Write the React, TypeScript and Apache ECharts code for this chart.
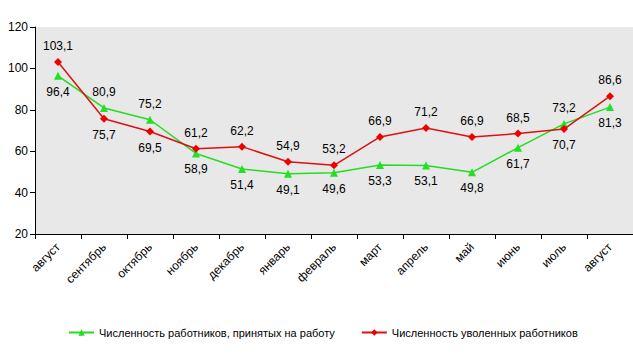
import React, { useEffect, useRef } from "react";
import * as echarts from "echarts";

const categories = ["август", "сентябрь", "октябрь", "ноябрь", "декабрь", "январь", "февраль", "март", "апрель", "май", "июнь", "июль", "август"];
const hired = [96.4, 80.9, 75.2, 58.9, 51.4, 49.1, 49.6, 53.3, 53.1, 49.8, 61.7, 73.2, 81.3];
const fired = [103.1, 75.7, 69.5, 61.2, 62.2, 54.9, 53.2, 66.9, 71.2, 66.9, 68.5, 70.7, 86.6];
const hiredPos = ["bottom", "top", "top", "bottom", "bottom", "bottom", "bottom", "bottom", "bottom", "bottom", "bottom", "top", "bottom"];
const firedPos = ["top", "bottom", "bottom", "top", "top", "top", "top", "top", "top", "top", "top", "bottom", "top"];
const seriesNames = ["Численность работников, принятых на работу", "Численность уволенных работников"];

const fmt = (v: number) => v.toFixed(1).replace(".", ",");

export default function App() {
  const ref = useRef<HTMLDivElement>(null);
  useEffect(() => {
    const chart = echarts.init(ref.current!, null, { renderer: "svg" });
    const font = "'Liberation Sans', Arial, sans-serif";
    const mk = (vals: number[], pos: string[]) =>
      vals.map((v, i) => ({ value: v, label: { position: pos[i] } }));
    chart.setOption({
      animation: false,
      backgroundColor: "#ffffff",
      textStyle: { fontFamily: font },
      grid: { left: 35, top: 27, right: 0, bottom: 119, show: true, backgroundColor: "#e8e8e8", borderWidth: 0 },
      legend: {
        bottom: 10,
        left: 63,
        itemGap: 26,
        itemWidth: 25,
        itemHeight: 8,
        textStyle: { fontFamily: font, fontSize: 11, color: "#000" },
        data: seriesNames,
      },
      xAxis: {
        type: "category",
        data: categories,
        boundaryGap: true,
        axisLine: { lineStyle: { color: "#000", width: 1 } },
        axisTick: { show: true, length: 5, lineStyle: { color: "#000" } },
        axisLabel: { rotate: 45, color: "#000", fontSize: 12, margin: 11, interval: 0 },
        splitLine: { show: false },
      },
      yAxis: {
        type: "value",
        min: 20,
        max: 120,
        interval: 20,
        axisLine: { show: true, lineStyle: { color: "#000", width: 1 } },
        axisTick: { show: true, length: 5, lineStyle: { color: "#000" } },
        axisLabel: { color: "#000", fontSize: 12, margin: 7 },
        splitLine: { show: false },
      },
      series: [
        {
          name: seriesNames[0],
          type: "line",
          data: mk(hired, hiredPos),
          symbol: "triangle",
          symbolSize: 8,
          itemStyle: { color: "#22e022" },
          lineStyle: { color: "#22dd22", width: 1.5 },
          label: { show: true, formatter: (p: any) => fmt(p.value), color: "#000", fontSize: 12, distance: 6 },
          z: 2,
        },
        {
          name: seriesNames[1],
          type: "line",
          data: mk(fired, firedPos),
          symbol: "diamond",
          symbolSize: 8,
          itemStyle: { color: "#ee0000" },
          lineStyle: { color: "#dd1111", width: 1.5 },
          label: { show: true, formatter: (p: any) => fmt(p.value), color: "#000", fontSize: 12, distance: 6 },
          z: 3,
        },
      ],
    });
    return () => chart.dispose();
  }, []);
  return <div ref={ref} style={{ position: "fixed", left: 0, top: 0, width: 633, height: 353 }} />;
}
